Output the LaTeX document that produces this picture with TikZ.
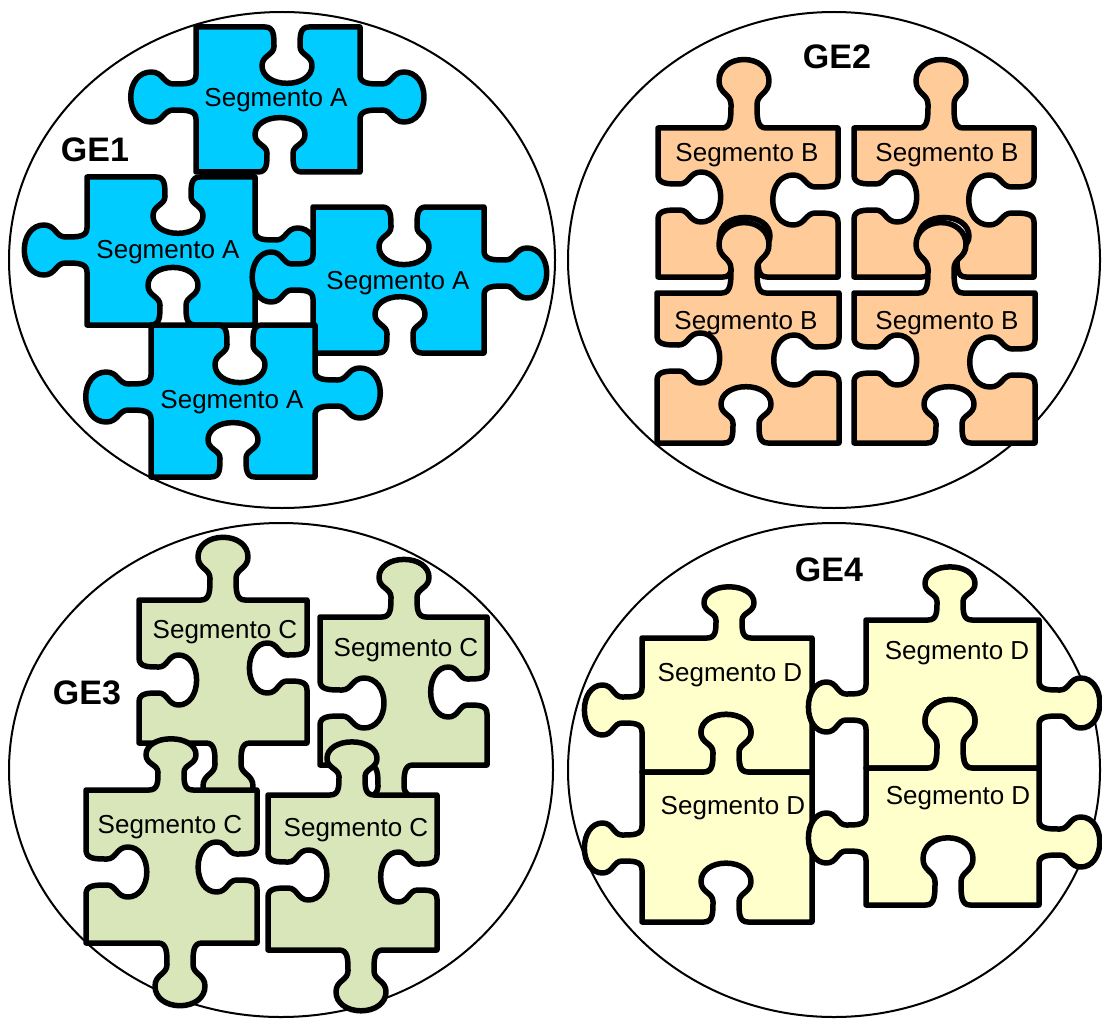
\documentclass[tikz,border=0pt]{standalone}
\usepackage{fontspec}
\setmainfont{Liberation Sans}
\definecolor{pieceA}{RGB}{0,204,255}
\definecolor{pieceB}{RGB}{255,204,153}
\definecolor{pieceC}{RGB}{216,230,185}
\definecolor{pieceD}{RGB}{255,255,204}

% One tab (positive #5/#6) or blank (negative) on a piece edge:
% base point (#1,#2), unit vector along the edge (#3,#4), outward vector (#5,#6)
\newcommand\knob[6]{%
  -- ({#1-22*(#3)},{#2-22*(#4)})
  .. controls ({#1-13*(#3)},{#2-13*(#4)}) and ({#1-13*(#3)+10*(#5)},{#2-13*(#4)+10*(#6)})
  .. ({#1-13*(#3)+22*(#5)},{#2-13*(#4)+22*(#6)})
  .. controls ({#1-13*(#3)+32*(#5)},{#2-13*(#4)+32*(#6)}) and ({#1-25*(#3)+32*(#5)},{#2-25*(#4)+32*(#6)})
  .. ({#1-25*(#3)+44*(#5)},{#2-25*(#4)+44*(#6)})
  .. controls ({#1-25*(#3)+56*(#5)},{#2-25*(#4)+56*(#6)}) and ({#1-14*(#3)+64*(#5)},{#2-14*(#4)+64*(#6)})
  .. ({#1+64*(#5)},{#2+64*(#6)})
  .. controls ({#1+14*(#3)+64*(#5)},{#2+14*(#4)+64*(#6)}) and ({#1+25*(#3)+56*(#5)},{#2+25*(#4)+56*(#6)})
  .. ({#1+25*(#3)+44*(#5)},{#2+25*(#4)+44*(#6)})
  .. controls ({#1+25*(#3)+32*(#5)},{#2+25*(#4)+32*(#6)}) and ({#1+13*(#3)+32*(#5)},{#2+13*(#4)+32*(#6)})
  .. ({#1+13*(#3)+22*(#5)},{#2+13*(#4)+22*(#6)})
  .. controls ({#1+13*(#3)+10*(#5)},{#2+13*(#4)+10*(#6)}) and ({#1+13*(#3)},{#2+13*(#4)})
  .. ({#1+22*(#3)},{#2+22*(#4)})}

% Edges of a piece with body x0,y0,x1,y1; #5 = tab size/sign, #6 = position
\newcommand\sidetop[6]{\knob{#6}{#2}{1}{0}{0}{-(#5)} -- (#3,#2)}
\newcommand\sideright[6]{\knob{#3}{#6}{0}{1}{#5}{0} -- (#3,#4)}
\newcommand\sidebottom[6]{\knob{#6}{#4}{-1}{0}{0}{#5} -- (#1,#4)}
\newcommand\sideleft[6]{\knob{#1}{#6}{0}{-1}{-(#5)}{0} -- cycle}

% \puzzle{colour}{x0}{y0}{x1}{y1}{top}{right}{bottom}{left}
\newcommand\puzzle[9]{%
  \filldraw[piece,fill=#1] (#2,#3)
    \sidetop{#2}{#3}{#4}{#5}#6
    \sideright{#2}{#3}{#4}{#5}#7
    \sidebottom{#2}{#3}{#4}{#5}#8
    \sideleft{#2}{#3}{#4}{#5}#9;}

\tikzset{
  piece/.style={line width=5.5pt, line join=round, draw=black},
  ring/.style={line width=2pt, draw=black, fill=white},
  seg/.style={font=\fontsize{26}{30}\selectfont, inner sep=0pt},
  ge/.style={font=\fontsize{34}{40}\selectfont\bfseries, inner sep=0pt}
}

\begin{document}
\begin{tikzpicture}[x=1pt, y=-1pt]
\useasboundingbox[fill=white] (0,0) rectangle (1102,1019);

% group outlines
\draw[ring] (282,260) ellipse [x radius=273pt, y radius=248pt];
\draw[ring] (834,260) ellipse [x radius=266pt, y radius=248pt];
\draw[ring] (281,770) ellipse [x radius=272pt, y radius=247pt];
\draw[ring] (834,770) ellipse [x radius=266pt, y radius=247pt];

% GE1
\puzzle{pieceA}{196}{27}{360}{172}{{-0.88}{287}}{{1.0}{97}}{{-0.85}{280}}{{1.02}{97}}
\puzzle{pieceA}{87}{177}{255}{325}{{-0.88}{178}}{{0.97}{253}}{{-0.9}{173}}{{0.98}{250}}
\puzzle{pieceA}{313}{207}{484}{353}{{-0.9}{404}}{{0.98}{273}}{{-0.88}{400}}{{0.95}{277}}
\puzzle{pieceA}{151}{325}{315}{477}{{-0.9}{240}}{{1.02}{393}}{{-0.85}{233}}{{1.02}{397}}
\node[seg] (a1) at (276,100) {Segmento A};
\node[seg] (a2) at (168,252) {Segmento A};
\node[seg] (a3) at (398,283) {Segmento A};
\node[seg] (a4) at (232,402) {Segmento A};
\node[ge] (ge1) at (95,150) {GE1};

% GE2
\puzzle{pieceB}{658}{128}{838}{277}{{1.07}{744}}{{-1.02}{200}}{{-0.93}{745}}{{-0.98}{197}}
\puzzle{pieceB}{854}{128}{1034}{277}{{1.07}{941}}{{-1.02}{200}}{{-0.93}{944}}{{-0.98}{197}}
\puzzle{pieceB}{657}{293}{839}{443}{{1.1}{744}}{{-1.02}{360}}{{-0.88}{746}}{{-0.98}{358}}
\puzzle{pieceB}{854}{293}{1035}{443}{{1.1}{941}}{{-1.02}{362}}{{-0.88}{949}}{{-0.98}{360}}
\node[seg] (b1) at (747,155) {Segmento B};
\node[seg] (b2) at (947,155) {Segmento B};
\node[seg] (b3) at (746,323) {Segmento B};
\node[seg] (b4) at (947,323) {Segmento B};
\node[ge] (ge2) at (837,57) {GE2};

% GE3
\puzzle{pieceC}{139}{600}{307}{743}{{0.98}{223}}{{-0.9}{668}}{{0.98}{228}}{{-0.9}{680}}
\puzzle{pieceC}{320}{617}{487}{765}{{0.9}{404}}{{-0.88}{692}}{{0.98}{391}}{{-1.0}{703}}
\puzzle{pieceC}{86}{790}{257}{943}{{0.8}{171}}{{-0.92}{867}}{{0.98}{180}}{{-0.95}{872}}
\puzzle{pieceC}{268}{795}{437}{950}{{0.83}{352}}{{-0.88}{877}}{{0.95}{361}}{{-0.92}{875}}
\node[seg] (c1) at (225,632) {Segmento C};
\node[seg] (c2) at (406,650) {Segmento C};
\node[seg] (c3) at (170,827) {Segmento C};
\node[seg] (c4) at (356,830) {Segmento C};
\node[ge] (ge3) at (87,693) {GE3};

% GE4
\puzzle{pieceD}{642}{638}{812}{772}{{0.8}{729}}{{0}{705}}{{-0.9}{726}}{{0.9}{710}}
\puzzle{pieceD}{642}{772}{812}{922}{{0.9}{726}}{{0}{845}}{{-0.92}{726}}{{0.9}{848}}
\puzzle{pieceD}{866}{620}{1039}{768}{{0.83}{950}}{{0.95}{703}}{{-1.07}{950}}{{0.9}{707}}
\puzzle{pieceD}{866}{768}{1039}{905}{{1.07}{950}}{{0.95}{842}}{{-1.05}{948}}{{0.9}{838}}
\node[seg] (d1) at (730,675) {Segmento D};
\node[seg] (d2) at (957,653) {Segmento D};
\node[seg] (d3) at (733,808) {Segmento D};
\node[seg] (d4) at (958,798) {Segmento D};
\node[ge] (ge4) at (829,570) {GE4};
\end{tikzpicture}
\end{document}
